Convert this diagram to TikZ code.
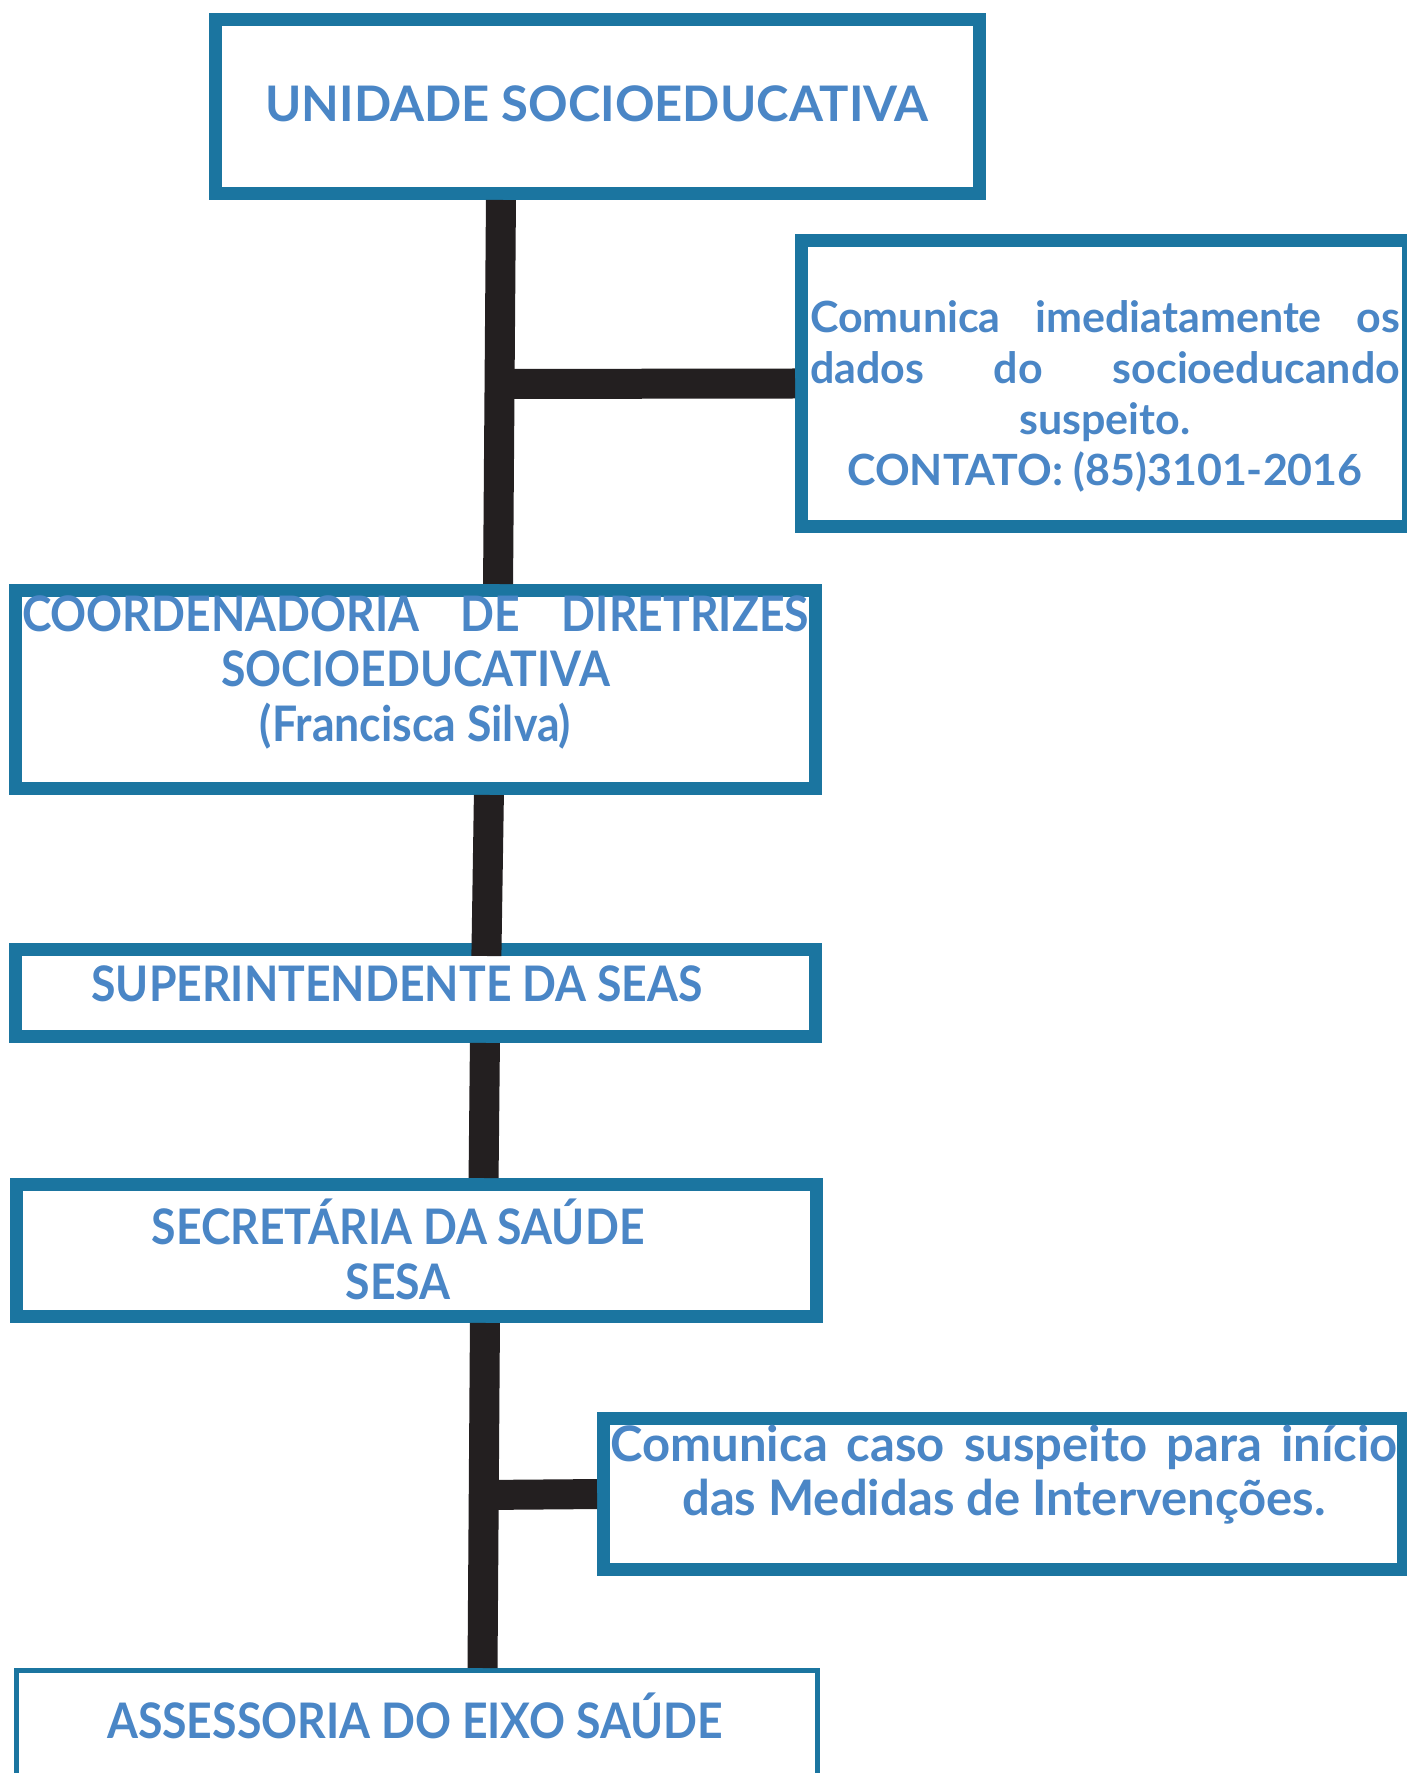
\documentclass[tikz,border=0pt]{standalone}
\usepackage{fontspec}
\setmainfont{Lato}
\newfontfamily\estreita{Lato}[FakeStretch=0.91]
\usepackage{tikz}
\usetikzlibrary{positioning}
\definecolor{borda}{HTML}{1B75A0}
\definecolor{azul}{HTML}{4A86C6}
\definecolor{preto}{HTML}{231F20}

\begin{document}
\begin{tikzpicture} [x=1pt, y=1pt,
                    caixa/.style={draw=borda, fill=white, line width=13pt, inner sep=0pt, outer sep=0pt},
                    texto/.style={text=azul, align=center, inner sep=0pt, font=\bfseries\fontsize{49}{55}\selectfont},
                    menor/.style={font=\bfseries\fontsize{43}{51}\selectfont},
                    estreito/.style={font=\estreita\bfseries\fontsize{49}{55}\selectfont},
                    tronco/.style={draw=preto, line width=30pt}]
\useasboundingbox (0,0) rectangle (1407,1773);

\node[caixa, minimum width=764pt, minimum height=174pt] (unidade) at (597.5,1666.5) {};
\node[caixa, minimum width=607pt, minimum height=286pt] (contato) at (1105,1389.5) {};
\node[caixa, minimum width=800pt, minimum height=198pt] (coord) at (415.5,1083.5) {};
\node[caixa, minimum width=800pt, minimum height=87pt] (super) at (415.5,780) {};
\node[caixa, minimum width=800pt, minimum height=132pt] (sesa) at (416.5,522.5) {};
\node[caixa, minimum width=800pt, minimum height=151pt] (caso) at (1003.5,279) {};
\node[caixa, line width=5pt, minimum width=801pt, minimum height=130pt] (assess) at (417,37.5) {};

\node[texto] (t-unidade) at (597,1669) {UNIDADE SOCIOEDUCATIVA};
\node[texto, menor] (t-contato) at (1105,1377)
    {\makebox[590pt][s]{Comunica imediatamente os}\\
     \makebox[590pt][s]{dados do socioeducando}\\
     suspeito.\\
     CONTATO: (85)3101-2016};
\node[texto, estreito] (t-coord) at (415.5,1101)
    {\makebox[787pt][s]{COORDENADORIA DE DIRETRIZES}\\
     SOCIOEDUCATIVA\\
     (Francisca Silva)};
\node[texto, estreito] (t-super) at (397,789) {SUPERINTENDENTE DA SEAS};
\node[texto, estreito] (t-sesa) at (398,524) {SECRETÁRIA DA SAÚDE\\ SESA};
\node[texto, font=\bfseries\fontsize{49}{54}\selectfont] (t-caso) at (1004,298.5)
    {\makebox[787pt][s]{Comunica caso suspeito para início}\\
     das Medidas de Intervenções.};
\node[texto, estreito] (t-assess) at (415,57.5) {ASSESSORIA DO EIXO SAÚDE};

\coordinate (j1) at (500,1389);
\coordinate (j2) at (484,278);

\draw[tronco, shorten <=6.5pt, shorten >=6.5pt] ([xshift=-96.5pt]unidade.south) -- ([xshift=82.5pt]coord.north);
\draw[tronco, shorten <=6.5pt, shorten >=-6.5pt] ([xshift=73.5pt]coord.south) -- ([xshift=71pt]super.north);
\draw[tronco, shorten <=6.5pt, shorten >=6.5pt] ([xshift=69.5pt]super.south) -- ([xshift=67pt]sesa.north);
\draw[tronco, shorten <=6.5pt, shorten >=2.5pt] ([xshift=68.5pt]sesa.south) -- ([xshift=65.5pt]assess.north);
\draw[tronco, shorten >=6.5pt] (j1) -- (contato.west);
\draw[tronco, shorten >=6.5pt] (j2) -- (caso.west);
\end{tikzpicture}
\end{document}
